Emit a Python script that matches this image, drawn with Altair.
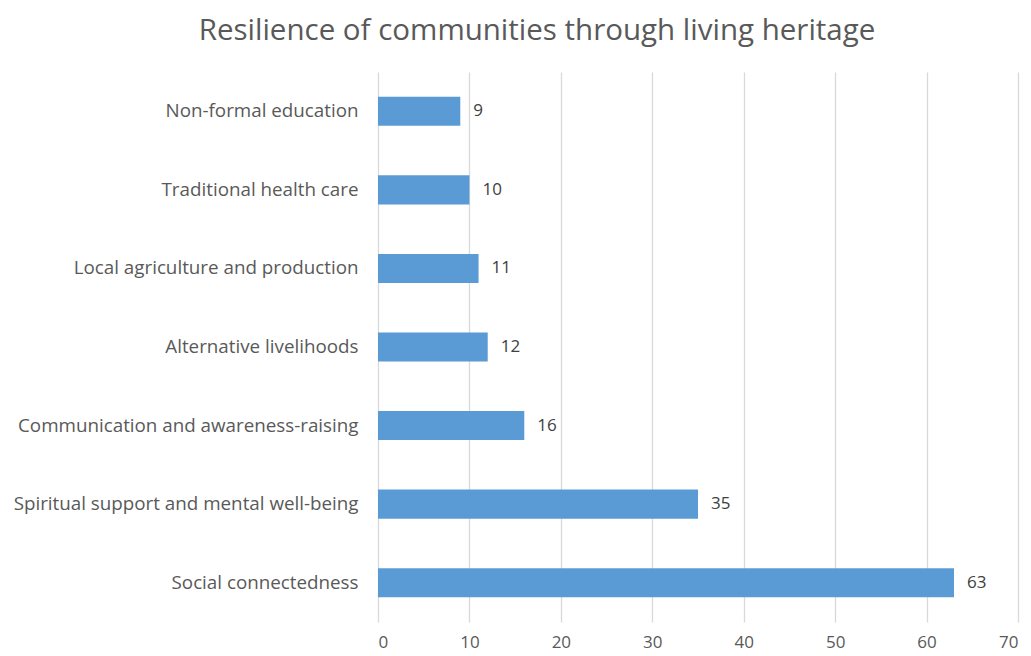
import altair as alt
import pandas as pd

categories = [
    "Non-formal education",
    "Traditional health care",
    "Local agriculture and production",
    "Alternative livelihoods",
    "Communication and awareness-raising",
    "Spiritual support and mental well-being",
    "Social connectedness",
]
values = [9, 10, 11, 12, 16, 35, 63]
x_ticks = [0, 10, 20, 30, 40, 50, 60, 70]

df = pd.DataFrame({"category": categories, "value": values})

FONT = "Open Sans"
GRAY = "#595959"

y_enc = alt.Y(
    "category:N",
    sort=categories,
    scale=alt.Scale(paddingInner=0.63, paddingOuter=0.315),
    axis=alt.Axis(
        title=None,
        ticks=False,
        domain=False,
        labelPadding=20,
        labelFontSize=18.8,
        labelFont=FONT,
        labelColor=GRAY,
        labelLimit=400,
    ),
)
x_enc = alt.X(
    "value:Q",
    scale=alt.Scale(domain=[0, 70], nice=False),
    axis=alt.Axis(
        title=None,
        values=x_ticks,
        ticks=False,
        domain=False,
        grid=True,
        gridColor="#d9d9d9",
        gridWidth=1.3,
        labelPadding=12,
        labelFontSize=17,
        labelFont=FONT,
        labelColor=GRAY,
    ),
)

bars = alt.Chart(df).mark_bar(color="#5B9BD5").encode(x=x_enc, y=y_enc)
labels = alt.Chart(df).mark_text(
    align="left", baseline="middle", dx=13, fontSize=17, font=FONT, color="#404040"
).encode(x=alt.X("value:Q"), y=alt.Y("category:N", sort=categories), text="value:Q")

chart = (
    (bars + labels)
    .properties(
        width=640,
        height=550,
        title=alt.Title(
            "Resilience of communities through living heritage",
            fontSize=29.5,
            font=FONT,
            fontWeight="normal",
            color=GRAY,
            anchor="middle",
            dx=-161,
            offset=26,
        ),
        autosize=alt.AutoSizeParams(type="none"),
        padding={"left": 370, "top": 64, "right": 5, "bottom": 40},
    )
    .configure_view(stroke=None)
)

chart.save("out.html", embed_options={"renderer": "svg", "actions": False})
